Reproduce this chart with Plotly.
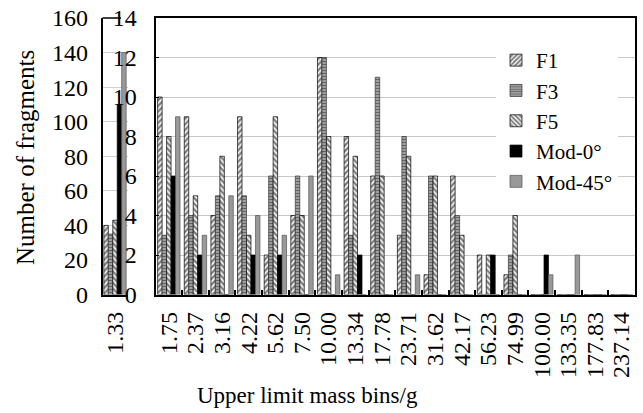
import plotly.graph_objects as go

# ---------------- data ----------------
cat_first = ["1.33"]
first_F1 = [40]
first_F3 = [35]
first_F5 = [43]
first_Mod0 = [110]
first_Mod45 = [140]

categories = ["1.75", "2.37", "3.16", "4.22", "5.62", "7.50", "10.00", "13.34",
              "17.78", "23.71", "31.62", "42.17", "56.23", "74.99", "100.00",
              "133.35", "177.83", "237.14"]
F1 = [10, 9, 4, 9, 2, 4, 12, 8, 6, 3, 1, 6, 2, 1, 0, 0, 0, 0]
F3 = [3, 4, 5, 5, 6, 6, 12, 3, 11, 8, 6, 4, 0, 2, 0, 0, 0, 0]
F5 = [8, 5, 7, 3, 9, 4, 8, 7, 6, 7, 6, 3, 2, 4, 0, 0, 0, 0]
Mod0 = [6, 2, 0, 2, 2, 0, 0, 2, 0, 0, 0, 0, 2, 0, 2, 0, 0, 0]
Mod45 = [9, 3, 5, 4, 3, 6, 1, 0, 0, 1, 0, 0, 0, 0, 1, 2, 0, 0]

left_ticks = [0, 20, 40, 60, 80, 100, 120, 140, 160]
inset_ticks = [0, 2, 4, 6, 8, 10, 12, 14]

series_names = ["F1", "F3", "F5", "Mod-0°", "Mod-45°"]

# ---------------- styles ----------------
FONT = "Liberation Serif, Times New Roman, serif"
W, H = 643, 413
styles = [
    dict(color="white", pattern=dict(shape="/", fgcolor="black", bgcolor="white", size=4, solidity=0.6),
         line=dict(color="black", width=0.7)),
    dict(color="#888888", pattern=dict(shape="-", fgcolor="#1a1a1a", bgcolor="#b0b0b0", size=3, solidity=0.5),
         line=dict(color="#333333", width=0.7)),
    dict(color="white", pattern=dict(shape="\\", fgcolor="black", bgcolor="white", size=4, solidity=0.6),
         line=dict(color="black", width=0.7)),
    dict(color="black", line=dict(color="black", width=0.7)),
    dict(color="#999999", line=dict(color="#555555", width=0.7)),
]

fig = go.Figure()
first_vals = [first_F1, first_F3, first_F5, first_Mod0, first_Mod45]
main_vals = [F1, F3, F5, Mod0, Mod45]
for name, st, fv, mv in zip(series_names, styles, first_vals, main_vals):
    fig.add_trace(go.Bar(x=cat_first, y=fv, name=name, marker=st, showlegend=False,
                         xaxis="x", yaxis="y"))
    fig.add_trace(go.Bar(x=categories, y=mv, name=name, marker=st, showlegend=True,
                         xaxis="x2", yaxis="y2"))

def px_x(p):
    return p / W

def px_y(p):
    return 1 - p / H

y_dom = [px_y(294.5), px_y(18)]

yfont = dict(family=FONT, size=24, color="black")
xfont = dict(family=FONT, size=24, color="black")

fig.update_layout(
    width=W, height=H,
    margin=dict(l=0, r=0, t=0, b=0, autoexpand=False),
    paper_bgcolor="white", plot_bgcolor="white",
    barmode="group", bargap=0.16, bargroupgap=0,
    font=dict(family=FONT, size=22, color="black"),
    showlegend=True,
    legend=dict(x=px_x(496), y=px_y(40), xanchor="left", yanchor="top",
                bgcolor="white", borderwidth=0,
                font=dict(family=FONT, size=21, color="black"),
                traceorder="normal", itemwidth=30),
    xaxis=dict(domain=[px_x(102.5), px_x(127.5)], type="category",
               range=[-0.47, 0.47], automargin=False,
               showline=True, linecolor="black", linewidth=1.5,
               ticks="", tickangle=-90, ticklabelstandoff=6,
               showgrid=False, anchor="y", tickfont=xfont),
    yaxis=dict(domain=y_dom, range=[0, 160], tickvals=left_ticks, automargin=False,
               showline=True, linecolor="black", linewidth=1.5,
               ticks="", ticklabelstandoff=8,
               showgrid=True, gridcolor="#d0d0d0", gridwidth=1,
               zeroline=False, anchor="x", tickfont=yfont),
    xaxis2=dict(domain=[px_x(155.5), px_x(635)], type="category", automargin=False,
                tickmode="linear", tick0=0, dtick=1,
                showline=True, mirror=True, linecolor="black", linewidth=2,
                ticks="inside", tickson="boundaries", ticklen=5, tickwidth=1.5,
                tickcolor="black", tickangle=-90, ticklabelstandoff=6,
                showgrid=False, anchor="y2", tickfont=xfont),
    yaxis2=dict(domain=y_dom, range=[0, 14], tickvals=inset_ticks, automargin=False,
                showline=True, mirror=True, linecolor="black", linewidth=2,
                ticks="inside", ticklen=3, tickcolor="black",
                ticklabelstandoff=12,
                showgrid=True, gridcolor="#c8c8c8", gridwidth=1,
                zeroline=False, anchor="x2", tickfont=yfont),
    shapes=[dict(type="line", xref="paper", yref="paper",
                 x0=px_x(102.5), x1=px_x(121), y0=y_dom[1], y1=y_dom[1],
                 line=dict(color="black", width=1.5))],
    annotations=[
        dict(text="Number of fragments", xref="paper", yref="paper",
             x=px_x(25), y=px_y(158), textangle=-90, showarrow=False,
             font=dict(family=FONT, size=25, color="black"),
             xanchor="center", yanchor="middle"),
        dict(text="Upper limit mass bins/g", xref="paper", yref="paper",
             x=px_x(307), y=px_y(395), showarrow=False,
             font=dict(family=FONT, size=23, color="black"),
             xanchor="center", yanchor="middle"),
    ],
)

fig.write_html("out.html")
